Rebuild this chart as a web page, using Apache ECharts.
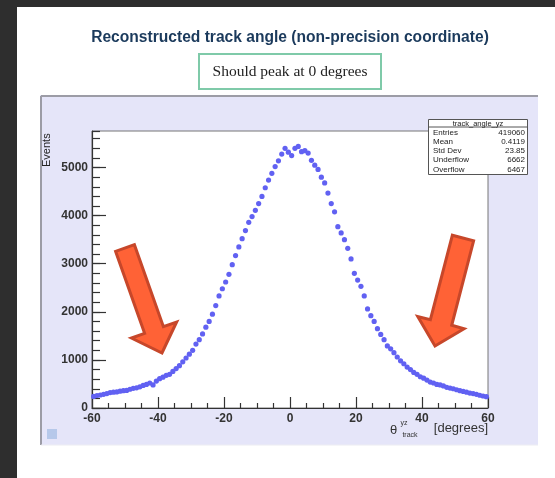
<!DOCTYPE html>
<html>
<head>
<meta charset="utf-8">
<script src="https://cdn.jsdelivr.net/npm/echarts@6/dist/echarts.min.js"></script>
<style>
html,body{margin:0;padding:0;background:#fff;}
#chart{width:555px;height:478px;}
</style>
</head>
<body>
<div id="chart"></div>
<script>
// Bin centres (1 degree bins from -60 to 60)
var binCenters = [
 -59.5,-58.5,-57.5,-56.5,-55.5,-54.5,-53.5,-52.5,-51.5,-50.5,
 -49.5,-48.5,-47.5,-46.5,-45.5,-44.5,-43.5,-42.5,-41.5,-40.5,
 -39.5,-38.5,-37.5,-36.5,-35.5,-34.5,-33.5,-32.5,-31.5,-30.5,
 -29.5,-28.5,-27.5,-26.5,-25.5,-24.5,-23.5,-22.5,-21.5,-20.5,
 -19.5,-18.5,-17.5,-16.5,-15.5,-14.5,-13.5,-12.5,-11.5,-10.5,
 -9.5,-8.5,-7.5,-6.5,-5.5,-4.5,-3.5,-2.5,-1.5,-0.5,
 0.5,1.5,2.5,3.5,4.5,5.5,6.5,7.5,8.5,9.5,
 10.5,11.5,12.5,13.5,14.5,15.5,16.5,17.5,18.5,19.5,
 20.5,21.5,22.5,23.5,24.5,25.5,26.5,27.5,28.5,29.5,
 30.5,31.5,32.5,33.5,34.5,35.5,36.5,37.5,38.5,39.5,
 40.5,41.5,42.5,43.5,44.5,45.5,46.5,47.5,48.5,49.5,
 50.5,51.5,52.5,53.5,54.5,55.5,56.5,57.5,58.5,59.5
];
// Events per bin
var events = [
 240,260,270,285,300,320,330,335,350,360,
 365,390,410,420,440,470,490,520,480,560,
 610,640,680,700,760,820,880,960,1040,1120,
 1200,1330,1420,1540,1680,1800,1950,2130,2330,2480,
 2620,2780,2980,3170,3350,3520,3690,3860,3980,4110,
 4250,4400,4580,4740,4880,5020,5140,5280,5400,5320,
 5250,5400,5440,5330,5350,5300,5150,5050,4960,4800,
 4680,4470,4250,4080,3770,3640,3500,3320,3100,2800,
 2660,2530,2330,2060,1920,1800,1650,1530,1420,1290,
 1230,1150,1060,980,920,850,800,740,700,650,
 620,580,540,520,490,480,460,430,415,400,
 380,360,345,330,310,300,285,265,250,235
];
var xTicks = [-60,-40,-20,0,20,40,60];
var yTicks = [0,1000,2000,3000,4000,5000];
var statsLabels = ['Entries','Mean','Std Dev','Underflow','Overflow'];
var statsValues = ['419060','0.4119','23.85','6662','6467'];
var titleText = 'Reconstructed track angle (non-precision coordinate)';
var noteText = 'Should peak at 0 degrees';
var statsTitle = 'track_angle_yz';

var data = binCenters.map(function(x,i){return [x, events[i]];});

var chart = echarts.init(document.getElementById('chart'), null, {renderer:'canvas'});

var axisFont = {fontFamily:'Liberation Sans, Arial, sans-serif', fontSize:12, fontWeight:'bold', color:'#333'};

var statsGraphics = [];
statsGraphics.push({type:'rect', shape:{x:428.5,y:119.5,width:99,height:55}, style:{fill:'#fff', stroke:'#555', lineWidth:1}, z:20});
statsGraphics.push({type:'line', shape:{x1:428.5,y1:127,x2:527.5,y2:127}, style:{stroke:'#555', lineWidth:1}, z:21});
statsGraphics.push({type:'text', x:478, y:123.5, style:{text:statsTitle, font:'7.5px Liberation Sans, Arial, sans-serif', fill:'#222', align:'center', verticalAlign:'middle'}, z:21});
statsLabels.forEach(function(l,i){
  var yy = 132.5 + i*9.2;
  statsGraphics.push({type:'text', x:433, y:yy, style:{text:l, font:'8px Liberation Sans, Arial, sans-serif', fill:'#222', align:'left', verticalAlign:'middle'}, z:21});
  statsGraphics.push({type:'text', x:525, y:yy, style:{text:statsValues[i], font:'8px Liberation Sans, Arial, sans-serif', fill:'#222', align:'right', verticalAlign:'middle'}, z:21});
});

var arrowStyle = {fill:'#ff6236', stroke:'#c7472a', lineWidth:3, lineJoin:'miter'};

var option = {
  animation:false,
  backgroundColor:'#ffffff',
  grid:{left:92, top:131, width:396, height:277, show:true, backgroundColor:'#ffffff', borderColor:'#777', borderWidth:1},
  xAxis:{
    type:'value', min:-60, max:60, interval:20, z:3,
    axisLine:{onZero:false, lineStyle:{color:'#333', width:1.2}},
    axisTick:{inside:true, length:11, lineStyle:{color:'#333', width:1.2}},
    minorTick:{show:true, splitNumber:4, length:5, lineStyle:{color:'#333', width:1.2}},
    splitLine:{show:false},
    axisLabel:Object.assign({margin:5, formatter:function(v){return String(v);}}, axisFont)
  },
  yAxis:[{
    type:'value', min:0, max:5760, interval:1000, z:3, position:'left',
    axisLine:{show:true, onZero:false, lineStyle:{color:'#333', width:1.2}},
    axisTick:{inside:true, length:14, lineStyle:{color:'#333', width:1.2}},
    splitLine:{show:false},
    axisLabel:Object.assign({margin:4, showMaxLabel:false, formatter:function(v){return String(v);}}, axisFont)
  },{
    type:'value', min:0, max:5760, interval:200, position:'left', offset:0, z:3,
    axisLine:{show:false, onZero:false},
    axisTick:{inside:true, length:8, lineStyle:{color:'#333', width:1.2}},
    splitLine:{show:false},
    axisLabel:{show:false}
  }],
  series:[{
    type:'scatter', data:data, xAxisIndex:0, yAxisIndex:0,
    symbol:'circle', symbolSize:5.2,
    itemStyle:{color:'#6161f2', opacity:1},
    silent:true, z:5
  }],
  graphic:[
    {type:'rect', shape:{x:0,y:0,width:17,height:478}, style:{fill:'#2e2e2e'}, z:-10},
    {type:'rect', shape:{x:0,y:0,width:555,height:7}, style:{fill:'#2e2e2e'}, z:-10},
    {type:'rect', shape:{x:40,y:95,width:498,height:350}, style:{fill:'#e5e5f9'}, z:-5},
    {type:'line', shape:{x1:41,y1:96,x2:538,y2:96}, style:{stroke:'#9c9ca6', lineWidth:2}, z:-4},
    {type:'line', shape:{x1:41,y1:96,x2:41,y2:445}, style:{stroke:'#9c9ca6', lineWidth:2}, z:-4},
    {type:'line', shape:{x1:41,y1:445,x2:538,y2:445}, style:{stroke:'#ececf2', lineWidth:1}, z:-4},
    {type:'rect', shape:{x:47,y:429,width:10,height:10}, style:{fill:'#b6c8ea'}, z:-3},
    {type:'text', x:290, y:38, style:{text:titleText, font:'bold 15.6px Liberation Sans, Arial, sans-serif', fill:'#1b3a5c', align:'center', verticalAlign:'middle'}},
    {type:'rect', shape:{x:199,y:54,width:182,height:35}, style:{fill:'#fff', stroke:'#7fcaa9', lineWidth:2}},
    {type:'text', x:290, y:71.5, style:{text:noteText, font:'15.5px Liberation Serif, Times New Roman, serif', fill:'#222', align:'center', verticalAlign:'middle'}},
    {type:'text', x:47, y:167, rotation:Math.PI/2, style:{text:'Events', font:'11px Liberation Sans, Arial, sans-serif', fill:'#222', align:'left', verticalAlign:'middle'}, z:10},
    {type:'text', x:390, y:430, style:{text:'θ', font:'13px Liberation Sans, Arial, sans-serif', fill:'#333', align:'left', verticalAlign:'middle'}, z:10},
    {type:'text', x:404, y:423, style:{text:'yz', font:'7px Liberation Sans, Arial, sans-serif', fill:'#333', align:'center', verticalAlign:'middle'}, z:10},
    {type:'text', x:410, y:435, style:{text:'track', font:'7px Liberation Sans, Arial, sans-serif', fill:'#333', align:'center', verticalAlign:'middle'}, z:10},
    {type:'text', x:488, y:428, style:{text:'[degrees]', font:'13px Liberation Sans, Arial, sans-serif', fill:'#333', align:'right', verticalAlign:'middle'}, z:10},
    {type:'polygon', shape:{points:[[115.6,251.3],[134.4,244.7],[163.4,326.7],[176.6,322],[162,353],[131.4,338],[144.6,333.3]]}, style:arrowStyle, z:15},
    {type:'polygon', shape:{points:[[452.4,235.2],[473.6,240.8],[451.7,325.3],[464,328.8],[435,346],[417.8,316.5],[430.4,319.7]]}, style:arrowStyle, z:15}
  ].concat(statsGraphics)
};
chart.setOption(option);
</script>
</body>
</html>
